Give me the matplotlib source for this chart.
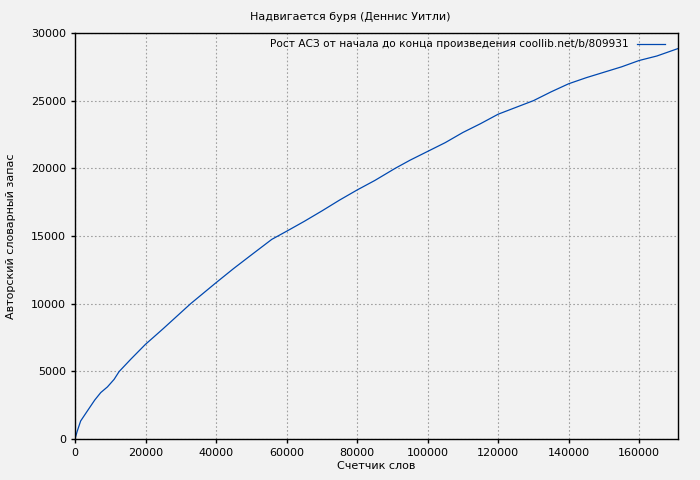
import matplotlib
matplotlib.use('Agg')
import matplotlib.pyplot as plt

# данные
words = [0, 600, 1600, 3500, 5600, 7300, 9200, 11100, 12500, 15800, 20000,
         22400, 25000, 32800, 40000, 45000, 50000, 55800, 60000, 65000, 70000,
         75000, 80000, 85000, 90800, 95000, 100000, 105000, 110000, 115000,
         120000, 125000, 130000, 135000, 140000, 145000, 150000, 155000,
         160000, 165000, 171000]
vocab = [0, 550, 1330, 2070, 2880, 3430, 3850, 4410, 4980, 5890, 7000,
         7550, 8150, 10000, 11550, 12600, 13600, 14750, 15350, 16080, 16850,
         17650, 18400, 19100, 20000, 20600, 21250, 21900, 22650, 23300,
         24000, 24500, 25000, 25650, 26250, 26700, 27100, 27500,
         27970, 28300, 28850]
x_ticks = [0, 20000, 40000, 60000, 80000, 100000, 120000, 140000, 160000]
y_ticks = [0, 5000, 10000, 15000, 20000, 25000, 30000]

title = 'Надвигается буря (Деннис Уитли)'
legend_label = 'Рост АСЗ от начала до конца произведения coollib.net/b/809931'

plt.rcParams['font.family'] = ['DejaVu Sans']
plt.rcParams['font.size'] = 8

fig = plt.figure(figsize=(7, 4.8), dpi=100, facecolor='#f2f2f2')
ax = fig.add_axes([75 / 700, 41 / 480, 603 / 700, 406 / 480])
ax.set_facecolor('#f2f2f2')

ax.plot(words, vocab, color='#0048b0', linewidth=0.9, label=legend_label)

ax.set_xlim(0, 171000)
ax.set_ylim(0, 30000)
ax.set_xticks(x_ticks)
ax.set_yticks(y_ticks)
ax.tick_params(direction='out', length=3, width=1, colors='black', labelsize=8)

# пунктирная сетка
ax.grid(True, color='#a0a0a0', linestyle=(0, (1.5, 2)), linewidth=0.8)
for s in ax.spines.values():
    s.set_color('black')
    s.set_linewidth(1)

ax.set_xlabel('Счетчик слов', fontsize=8, labelpad=2)
ax.set_ylabel('Авторский словарный запас', fontsize=8, labelpad=11)
fig.text(0.5, 1 - 17 / 480, title, ha='center', va='center', fontsize=8)

ax.legend(loc='upper right', frameon=False, markerfirst=False, fontsize=7.6,
          handlelength=2.6, borderaxespad=0.2, handletextpad=0.8,
          bbox_to_anchor=(1 - 7 / 603, 1))

plt.savefig('out.png', dpi=100, facecolor=fig.get_facecolor())
